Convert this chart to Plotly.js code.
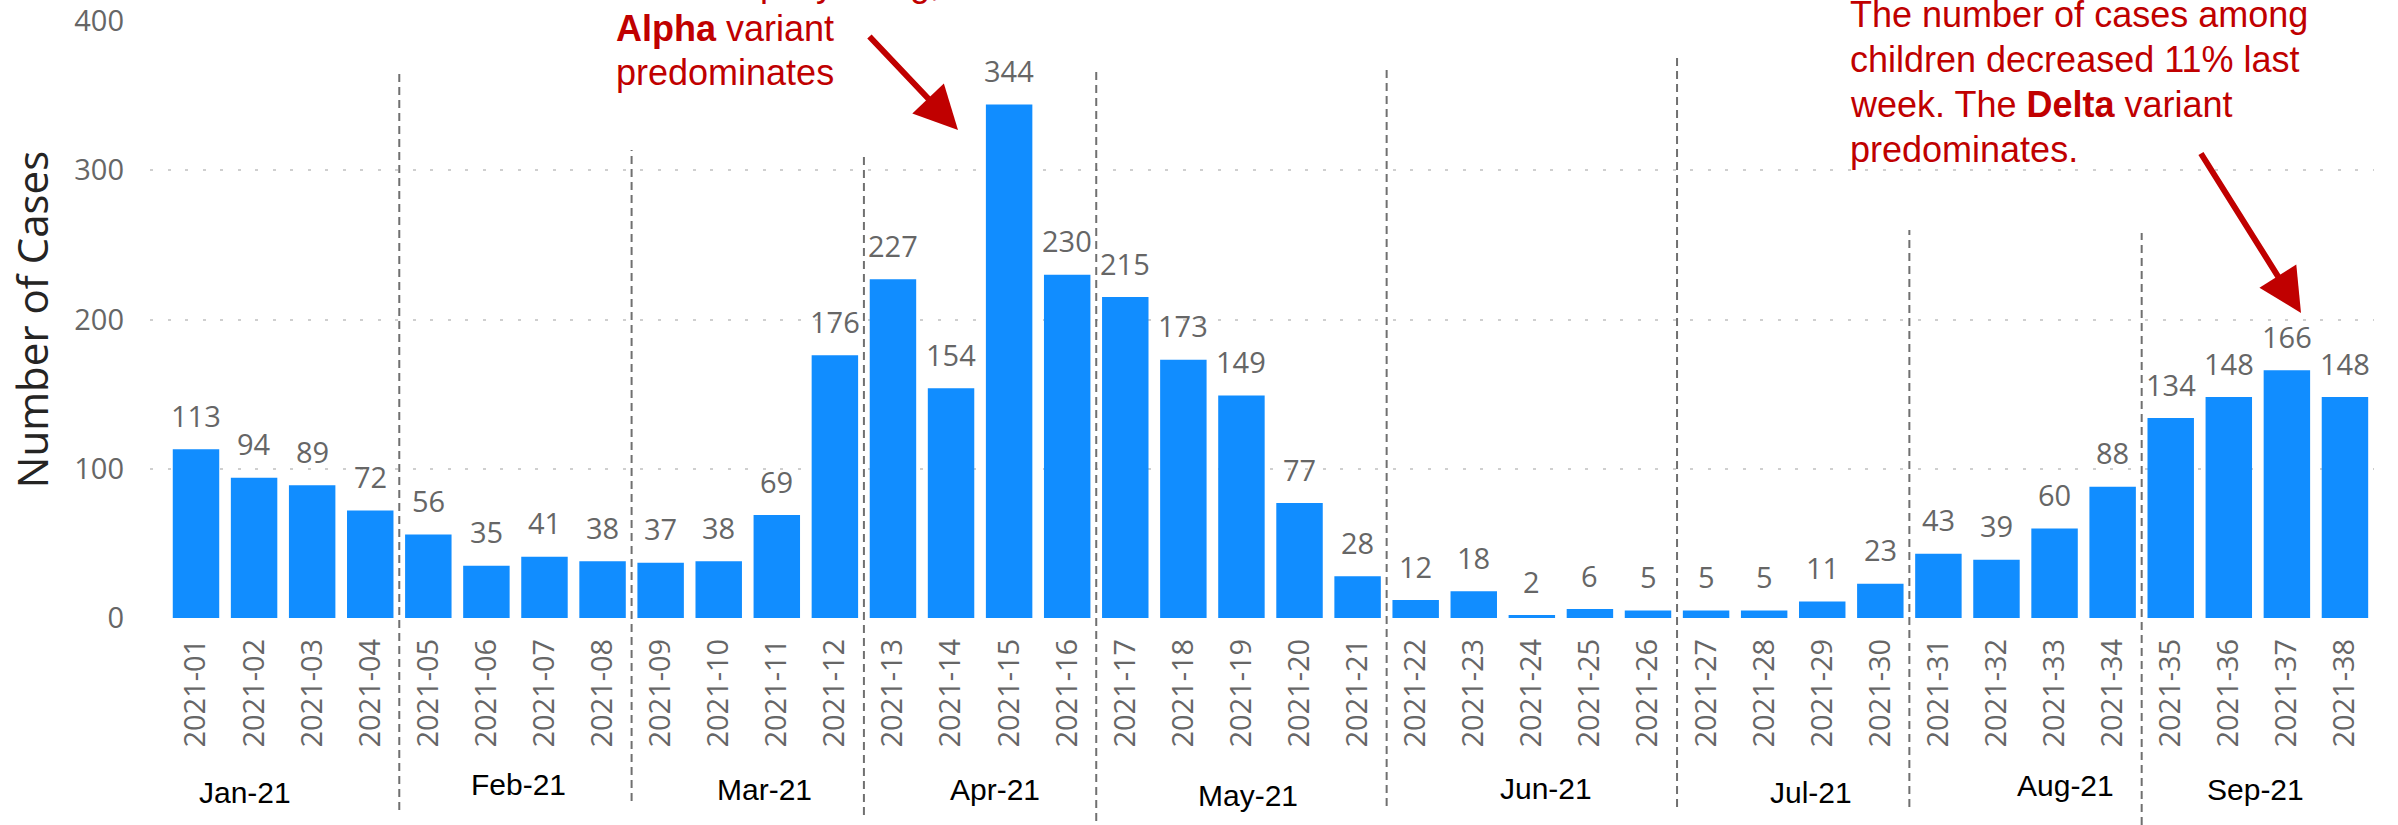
<!DOCTYPE html>
<html><head><meta charset="utf-8">
<script src="https://cdn.plot.ly/plotly-3.0.1.min.js"></script>
<style>html,body{margin:0;padding:0;background:#fff;} #chart{width:2398px;height:825px;}</style>
</head><body><div id="chart"></div>
<script>
// ---- data ----
const weeks = ["2021-01","2021-02","2021-03","2021-04","2021-05","2021-06","2021-07","2021-08","2021-09","2021-10",
  "2021-11","2021-12","2021-13","2021-14","2021-15","2021-16","2021-17","2021-18","2021-19","2021-20",
  "2021-21","2021-22","2021-23","2021-24","2021-25","2021-26","2021-27","2021-28","2021-29","2021-30",
  "2021-31","2021-32","2021-33","2021-34","2021-35","2021-36","2021-37","2021-38"];
const cases = [113,94,89,72,56,35,41,38,37,38,69,176,227,154,344,230,215,173,149,77,28,12,18,2,6,5,5,5,11,23,43,39,60,88,134,148,166,148];
const months = ["Jan-21","Feb-21","Mar-21","Apr-21","May-21","Jun-21","Jul-21","Aug-21","Sep-21"];
const yTicks = [0,100,200,300,400];
const alphaLines = ["Cases rapidly rising,","<b>Alpha</b> variant","predominates"];
const deltaLines = ["The number of cases among","children decreased 11% last","week. The <b>Delta</b> variant","predominates."];

// ---- layout geometry (pixels) ----
const W=2398,H=825,L=150,R=24,T=21,B=207;
const plotW=W-L-R, plotH=H-T-B;
const px = x => (x-L)/plotW;
const py = y => (H-B-y)/plotH;

const monthX = [0.84,5.56,9.79,13.75,18.11,23.24,27.81,32.19,35.46];
const monthY = [792,784,789,789,795,788,792,786,789];
const sepX = [3.5,7.5,11.5,15.5,20.5,25.5,29.5,33.5];
const sepTop = [70,150,155,69,65,58,230,233];
const sepBot = [810,801,815,821,806,807,807,825];

const RED = '#C00000';
const grayFont = {family:'"Open Sans", "Noto Sans", sans-serif', size:29, color:'#666666'};
const redFont = {family:'"Liberation Sans", Arial, sans-serif', size:36, color:RED};

const annotations = [];
// data labels
weeks.forEach((w,i)=>{
  annotations.push({xref:'x',yref:'y',x:w,y:cases[i],text:String(cases[i]),showarrow:false,
    yanchor:'middle',yshift:34,font:grayFont});
});
// month labels
months.forEach((m,i)=>{
  annotations.push({xref:'x',yref:'paper',x:monthX[i],y:py(monthY[i]),text:m,showarrow:false,
    xanchor:'center',yanchor:'middle',font:{family:'"Liberation Sans", Arial, sans-serif',size:30,color:'#000'}});
});
// text call-outs
const alphaCenters=[-16.5,28.5,72.5];
alphaLines.forEach((t,i)=>annotations.push({xref:'paper',yref:'paper',x:px(614),y:py(alphaCenters[i]),text:t,
  showarrow:false,xanchor:'left',yanchor:'middle',align:'left',font:redFont}));
const deltaCenters=[14.5,59.5,104.5,149.5];
deltaLines.forEach((t,i)=>annotations.push({xref:'paper',yref:'paper',x:px(1848),y:py(deltaCenters[i]),text:t,
  showarrow:false,xanchor:'left',yanchor:'middle',align:'left',font:redFont}));
// arrows
annotations.push({xref:'paper',yref:'paper',x:px(958),y:py(130),ax:-90,ay:-95,text:'',showarrow:true,
  arrowcolor:RED,arrowwidth:6,arrowhead:2,arrowsize:1.45,standoff:0});
annotations.push({xref:'paper',yref:'paper',x:px(2301),y:py(313),ax:-101,ay:-161,text:'',showarrow:true,
  arrowcolor:RED,arrowwidth:6,arrowhead:2,arrowsize:1.45,standoff:0});

const shapes = sepX.map((x,i)=>({type:'line',xref:'x',yref:'paper',x0:x,x1:x,y0:py(sepBot[i]),y1:py(sepTop[i]),
  line:{color:'#707070',width:2,dash:'8px,5px'},layer:'above'}));

const trace = {type:'bar',x:weeks,y:cases,marker:{color:'#118DFF'},hoverinfo:'x+y'};

const layout = {
  width:W,height:H,margin:{l:L,r:R,t:T,b:B,pad:0},
  paper_bgcolor:'#fff',plot_bgcolor:'#fff',showlegend:false,bargap:0.2,
  xaxis:{type:'category',range:[-0.792,37.5],tickangle:-90,tickfont:grayFont,showgrid:false,
    showline:false,zeroline:false,ticks:'',ticklabelstandoff:14,automargin:false},
  yaxis:{range:[0,400],tickvals:yTicks,tickfont:grayFont,showgrid:true,gridcolor:'#cfcfcf',gridwidth:2,
    griddash:'3px,14.5px',zeroline:false,showline:false,ticks:'',ticklabelstandoff:25,automargin:false,
    title:{text:'Number of Cases',standoff:12,font:{family:'"Open Sans", "Noto Sans", sans-serif',size:42,color:'#252423'}}},
  annotations:annotations,shapes:shapes
};
Plotly.newPlot('chart',[trace],layout,{displayModeBar:false,staticPlot:true});
</script></body></html>
